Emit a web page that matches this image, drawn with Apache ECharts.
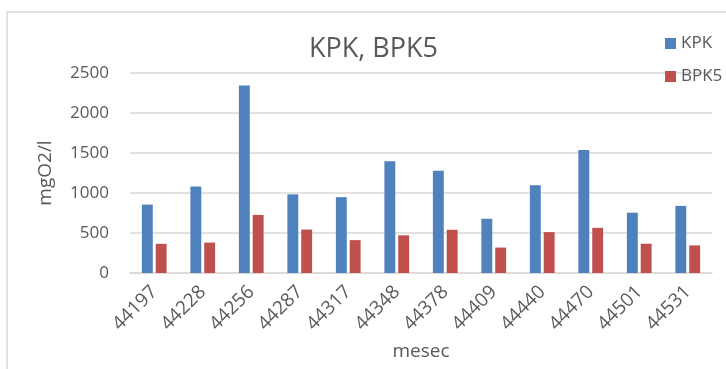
<!DOCTYPE html>
<html>
<head>
<meta charset="utf-8" />
<title>KPK, BPK5</title>
<script src="https://cdn.jsdelivr.net/npm/echarts@6/dist/echarts.min.js"></script>
<style>
  html, body { margin: 0; padding: 0; background: #fff; }
  #chart { width: 726px; height: 369px; }
</style>
</head>
<body>
<div id="chart"></div>
<script>
var months = ['44197', '44228', '44256', '44287', '44317', '44348', '44378', '44409', '44440', '44470', '44501', '44531'];
var kpk = [855, 1080, 2343, 983, 948, 1398, 1277, 678, 1097, 1537, 754, 839];
var bpk5 = [365, 380, 726, 543, 411, 471, 540, 318, 511, 565, 366, 345];
var yTicks = [0, 500, 1000, 1500, 2000, 2500];

var grey = '#595959';
var font = 'Open Sans';

var chart = echarts.init(document.getElementById('chart'), null, {renderer: 'canvas'});

chart.setOption({
    animation: false,
    textStyle: {fontFamily: font, color: grey},
    graphic: [{
        type: 'rect',
        shape: {x: 7, y: 12, width: 800, height: 420},
        style: {fill: 'none', stroke: '#d9d9d9', lineWidth: 1.5},
        z: -1
    }],
    title: {
        text: 'KPK, BPK5',
        left: 304,
        top: 31,
        textStyle: {fontFamily: font, fontSize: 27, fontWeight: 'normal', color: grey}
    },
    legend: {
        orient: 'vertical',
        left: 660,
        top: 30,
        itemWidth: 11,
        itemHeight: 11,
        itemGap: 16,
        icon: 'rect',
        textStyle: {fontFamily: font, fontSize: 17, color: grey},
        data: ['KPK', 'BPK5']
    },
    grid: {left: 130, right: 14, top: 73, bottom: 96, containLabel: false},
    xAxis: {
        type: 'category',
        data: months,
        name: 'mesec',
        nameLocation: 'middle',
        nameGap: 69,
        nameTextStyle: {fontFamily: font, fontSize: 19, color: grey},
        axisLine: {lineStyle: {color: '#d9d9d9', width: 1.5}},
        axisTick: {show: false},
        axisLabel: {rotate: 45, margin: 16, fontFamily: font, fontSize: 19, color: grey, interval: 0}
    },
    yAxis: {
        type: 'value',
        min: yTicks[0],
        max: yTicks[yTicks.length - 1],
        interval: 500,
        name: 'mgO2/l',
        nameLocation: 'middle',
        nameGap: 75,
        nameTextStyle: {fontFamily: font, fontSize: 19, color: grey},
        axisLine: {show: false},
        axisTick: {show: false},
        axisLabel: {
            margin: 21, fontFamily: font, fontSize: 17, color: grey,
            formatter: function (v) { return String(v); }
        },
        splitLine: {lineStyle: {color: '#d9d9d9', width: 1.5}}
    },
    series: [
        {
            name: 'KPK',
            type: 'bar',
            data: kpk,
            barGap: '27%',
            barCategoryGap: '49%',
            itemStyle: {color: '#4F81BD'}
        },
        {
            name: 'BPK5',
            type: 'bar',
            data: bpk5,
            itemStyle: {color: '#C0504D'}
        }
    ]
});
</script>
</body>
</html>
